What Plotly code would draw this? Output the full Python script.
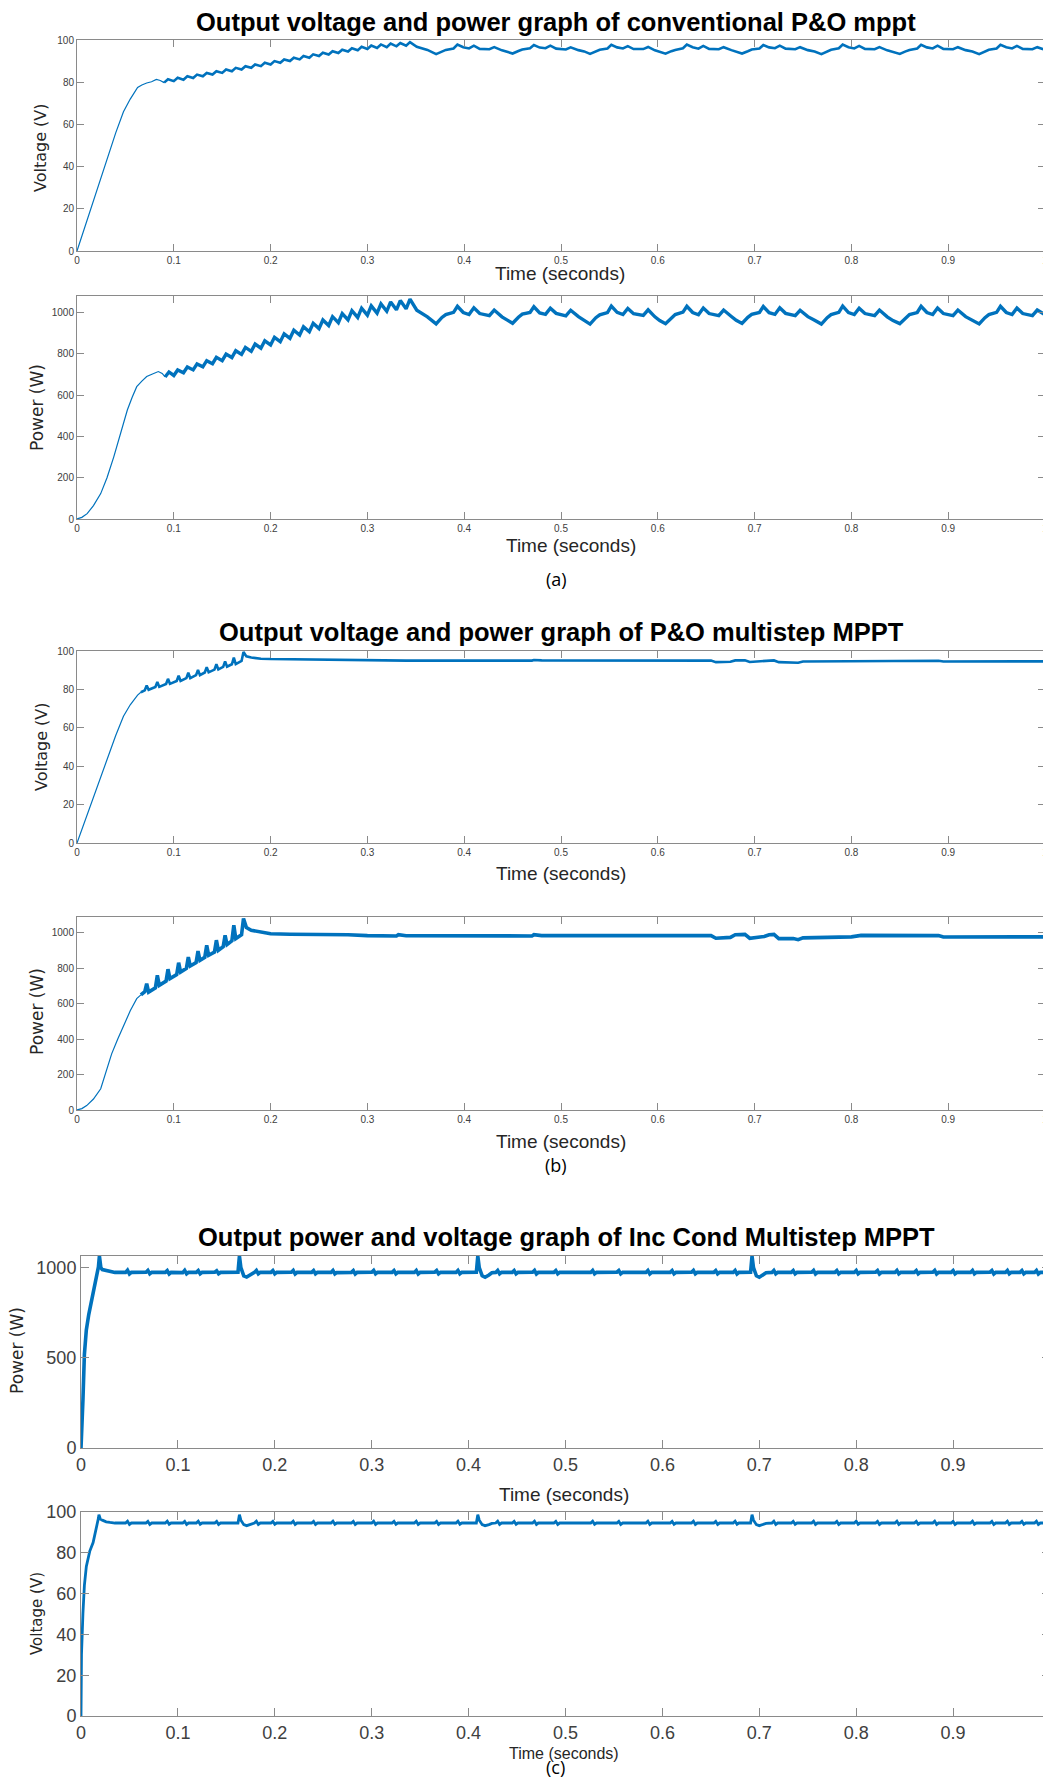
import plotly.graph_objects as go

# ---------------- data ----------------
TIME_TICKS = [0, 0.1, 0.2, 0.3, 0.4, 0.5, 0.6, 0.7, 0.8, 0.9, 1]
TIME_LABELS = ["0", "0.1", "0.2", "0.3", "0.4", "0.5", "0.6", "0.7", "0.8", "0.9", "1"]

TITLES = [
    "Output voltage and power graph of conventional P&O mppt",
    "Output voltage and power graph of P&O multistep MPPT",
    "Output power and voltage graph of Inc Cond Multistep MPPT",
]
CAPTIONS = ["(a)", "(b)", "(c)"]
X_TITLE = "Time (seconds)"
Y_TITLES = ["Voltage (V)", "Power (W)", "Voltage (V)", "Power (W)", "Power (W)", "Voltage (V)"]

# (a) conventional P&O : voltage start-up (t, V)
va_start = [(0, 0), (0.01, 14), (0.02, 28), (0.03, 42), (0.04, 56), (0.048, 66), (0.055, 72),
            (0.0626, 77.5), (0.067, 78.7), (0.072, 79.6), (0.077, 80.2), (0.082, 81.3),
            (0.086, 80.8), (0.09, 79.8)]
# (a) conventional P&O : voltage perturbation steps (t, V)
va_steps = [(0.090, 79.8), (0.094, 81.4), (0.100, 80.5), (0.104, 82.1), (0.110, 81.2), (0.114, 82.8),
            (0.120, 82.0), (0.124, 83.6), (0.130, 82.8), (0.134, 84.4), (0.140, 83.6), (0.144, 85.2),
            (0.150, 84.4), (0.154, 86.0), (0.160, 85.2), (0.164, 86.8), (0.170, 86.0), (0.174, 87.6),
            (0.180, 86.8), (0.184, 88.4), (0.190, 87.6), (0.194, 89.2), (0.200, 88.4), (0.204, 90.0),
            (0.210, 89.2), (0.214, 90.8), (0.220, 90.0), (0.224, 91.6), (0.230, 90.8), (0.234, 92.4),
            (0.240, 91.6), (0.244, 93.2), (0.250, 92.4), (0.254, 94.0), (0.260, 93.1), (0.264, 94.7),
            (0.270, 93.8), (0.274, 95.4), (0.280, 94.5), (0.284, 96.1), (0.290, 95.1), (0.294, 96.8),
            (0.300, 95.7), (0.304, 97.4), (0.310, 96.2), (0.314, 97.9), (0.320, 96.6), (0.324, 98.3),
            (0.330, 97.0), (0.334, 98.6), (0.340, 97.3), (0.344, 99.0), (0.351, 96.8), (0.362, 95.3),
            (0.371, 93.3), (0.377, 94.6), (0.381, 95.3), (0.389, 96.0), (0.393, 97.8), (0.399, 96.6),
            (0.405, 96.0), (0.410, 97.3), (0.416, 95.8), (0.426, 95.6), (0.431, 96.6), (0.439, 95.1),
            (0.445, 94.4), (0.450, 93.6), (0.456, 94.8), (0.460, 95.5), (0.468, 96.1), (0.472, 97.6),
            (0.478, 96.4), (0.484, 96.1), (0.489, 97.3), (0.495, 95.9), (0.505, 95.5), (0.510, 96.5),
            (0.518, 95.2), (0.524, 94.6), (0.530, 93.4), (0.536, 94.6), (0.540, 95.4), (0.548, 96.0),
            (0.552, 97.7), (0.558, 96.5), (0.564, 96.0), (0.569, 97.1), (0.575, 95.7), (0.585, 95.7),
            (0.590, 96.7), (0.597, 95.1), (0.602, 94.4), (0.608, 93.5), (0.614, 94.7), (0.618, 95.3),
            (0.626, 96.1), (0.630, 97.8), (0.636, 96.6), (0.642, 95.9), (0.647, 97.2), (0.653, 95.8),
            (0.663, 95.6), (0.668, 96.6), (0.676, 95.2), (0.681, 94.5), (0.687, 93.6), (0.693, 94.7),
            (0.697, 95.5), (0.705, 96.0), (0.709, 97.6), (0.715, 96.5), (0.721, 96.1), (0.726, 97.3),
            (0.732, 95.9), (0.742, 95.6), (0.747, 96.6), (0.755, 95.2), (0.762, 94.5), (0.769, 93.3),
            (0.775, 94.6), (0.779, 95.4), (0.787, 96.1), (0.791, 97.8), (0.797, 96.6), (0.803, 96.0),
            (0.808, 97.2), (0.814, 95.8), (0.824, 95.6), (0.829, 96.6), (0.837, 95.1), (0.843, 94.4),
            (0.850, 93.4), (0.856, 94.6), (0.860, 95.3), (0.868, 96.0), (0.872, 97.7), (0.878, 96.5),
            (0.884, 96.0), (0.889, 97.3), (0.895, 95.8), (0.905, 95.6), (0.910, 96.6), (0.918, 95.2),
            (0.925, 94.5), (0.932, 93.3), (0.938, 94.6), (0.942, 95.4), (0.950, 96.0), (0.954, 97.7),
            (0.960, 96.6), (0.966, 96.0), (0.971, 97.2), (0.977, 95.8), (0.987, 95.6), (0.992, 96.6),
            (1.0, 95.3)]

# (a) conventional P&O : power start-up (t, W)
pa_start = [(0, 0), (0.005, 8), (0.0105, 26), (0.017, 65), (0.0245, 123), (0.031, 200), (0.038, 301),
            (0.045, 410), (0.052, 528), (0.057, 590), (0.0617, 641), (0.067, 668), (0.072, 690),
            (0.078, 702), (0.084, 714), (0.088, 705), (0.091, 688)]
# (a) conventional P&O : power perturbation steps (t, W)
pa_steps = [(0.091, 688), (0.095, 712), (0.100, 695), (0.104, 722), (0.110, 708), (0.114, 736),
            (0.120, 722), (0.124, 751), (0.130, 737), (0.134, 767), (0.140, 752), (0.144, 783),
            (0.150, 767), (0.154, 799), (0.160, 782), (0.164, 815), (0.170, 797), (0.174, 831),
            (0.180, 812), (0.184, 847), (0.190, 827), (0.194, 863), (0.200, 843), (0.204, 880),
            (0.210, 859), (0.214, 897), (0.220, 875), (0.224, 914), (0.230, 891), (0.234, 931),
            (0.240, 907), (0.244, 948), (0.250, 922), (0.254, 964), (0.260, 937), (0.264, 980),
            (0.270, 951), (0.274, 995), (0.280, 964), (0.284, 1009), (0.290, 976), (0.294, 1021),
            (0.300, 987), (0.304, 1032), (0.310, 997), (0.314, 1042), (0.320, 1006), (0.324, 1051),
            (0.330, 1013), (0.334, 1058), (0.340, 1018), (0.344, 1065), (0.351, 1011), (0.362, 979),
            (0.371, 945), (0.377, 976), (0.381, 990), (0.389, 1001), (0.393, 1030), (0.399, 1000),
            (0.405, 990), (0.410, 1023), (0.416, 995), (0.426, 985), (0.431, 1012), (0.439, 979),
            (0.445, 962), (0.450, 948), (0.456, 977), (0.460, 992), (0.468, 1000), (0.472, 1028),
            (0.478, 998), (0.484, 991), (0.489, 1021), (0.495, 996), (0.505, 984), (0.510, 1011),
            (0.518, 980), (0.524, 963), (0.530, 944), (0.536, 975), (0.540, 989), (0.548, 1000),
            (0.552, 1031), (0.558, 1001), (0.564, 990), (0.569, 1020), (0.575, 994), (0.585, 986),
            (0.590, 1013), (0.597, 979), (0.602, 961), (0.608, 946), (0.614, 976), (0.618, 990),
            (0.626, 1002), (0.630, 1030), (0.636, 1000), (0.642, 989), (0.647, 1022), (0.653, 995),
            (0.663, 985), (0.668, 1012), (0.676, 981), (0.681, 962), (0.687, 947), (0.693, 977),
            (0.697, 991), (0.705, 1000), (0.709, 1029), (0.715, 999), (0.721, 991), (0.726, 1023),
            (0.732, 996), (0.742, 985), (0.747, 1011), (0.755, 980), (0.762, 963), (0.769, 944),
            (0.775, 975), (0.779, 990), (0.787, 1001), (0.791, 1031), (0.797, 1000), (0.803, 990),
            (0.808, 1021), (0.814, 995), (0.824, 985), (0.829, 1012), (0.837, 979), (0.843, 961),
            (0.850, 946), (0.856, 976), (0.860, 990), (0.868, 1000), (0.872, 1030), (0.878, 1000),
            (0.884, 990), (0.889, 1022), (0.895, 995), (0.905, 985), (0.910, 1012), (0.918, 980),
            (0.925, 962), (0.932, 945), (0.938, 975), (0.942, 990), (0.950, 1001), (0.954, 1030),
            (0.960, 1000), (0.966, 990), (0.971, 1022), (0.977, 995), (0.987, 985), (0.992, 1012),
            (1.0, 990)]

# (b) P&O multistep : voltage (t, V)
vb_start = [(0, 0), (0.01, 14), (0.02, 28), (0.03, 42), (0.04, 56), (0.048, 66), (0.055, 72),
            (0.0626, 77.0), (0.066, 78.5)]
vb_steps = [(0.066, 78.5), (0.070, 79.5), (0.072, 82.0), (0.074, 79.8), (0.081, 81.3), (0.083, 83.8),
            (0.085, 81.3), (0.092, 82.8), (0.094, 85.5), (0.096, 82.9), (0.103, 84.4), (0.105, 87.1),
            (0.107, 84.4), (0.113, 85.9), (0.115, 88.7), (0.117, 85.9), (0.123, 87.4), (0.125, 90.2),
            (0.127, 87.4), (0.132, 88.8), (0.134, 91.6), (0.136, 88.9), (0.142, 90.3), (0.144, 93.1),
            (0.146, 90.4), (0.151, 91.7), (0.153, 94.6), (0.155, 91.8), (0.160, 93.1), (0.162, 96.5),
            (0.164, 93.2), (0.170, 94.8), (0.172, 99.5), (0.175, 97.2), (0.180, 96.6), (0.19, 96.0),
            (0.20, 95.8), (0.22, 95.7), (0.25, 95.6), (0.27, 95.7), (0.28, 95.5), (0.30, 95.2),
            (0.33, 95.0), (0.335, 95.3), (0.34, 95.0), (0.47, 95.0), (0.472, 95.3), (0.48, 95.1),
            (0.60, 95.0), (0.655, 95.0), (0.66, 94.2), (0.675, 94.4), (0.68, 95.1), (0.69, 95.2),
            (0.695, 94.3), (0.71, 94.6), (0.715, 95.0), (0.72, 95.1), (0.725, 94.2), (0.74, 94.2),
            (0.745, 93.9), (0.75, 94.5), (0.80, 94.6), (0.81, 95.0), (0.89, 94.9), (0.895, 94.5),
            (1.0, 94.6)]

# (b) P&O multistep : power (t, W)
pb_start = [(0, 0), (0.005, 8), (0.01, 25), (0.017, 62), (0.0245, 120), (0.03, 210), (0.0358, 317),
            (0.042, 400), (0.048, 478), (0.055, 560), (0.0617, 629), (0.066, 650)]
pb_steps = [(0.066, 650), (0.070, 668), (0.072, 714), (0.074, 666), (0.081, 690), (0.083, 761),
            (0.085, 704), (0.092, 728), (0.094, 795), (0.096, 742), (0.103, 765), (0.105, 832),
            (0.107, 779), (0.113, 800), (0.115, 864), (0.117, 813), (0.123, 832), (0.125, 898),
            (0.127, 845), (0.132, 862), (0.134, 930), (0.136, 874), (0.142, 892), (0.144, 959),
            (0.146, 902), (0.151, 922), (0.153, 987), (0.155, 934), (0.160, 955), (0.162, 1044),
            (0.164, 968), (0.170, 990), (0.172, 1081), (0.175, 1030), (0.180, 1015), (0.19, 1003),
            (0.20, 995), (0.22, 993), (0.25, 992), (0.27, 994), (0.28, 990), (0.30, 985),
            (0.33, 983), (0.332, 990), (0.34, 984), (0.47, 983), (0.472, 990), (0.48, 985),
            (0.60, 985), (0.655, 985), (0.66, 970), (0.675, 975), (0.68, 990), (0.69, 992),
            (0.695, 970), (0.71, 980), (0.715, 990), (0.72, 992), (0.725, 968), (0.74, 968),
            (0.745, 962), (0.75, 972), (0.80, 978), (0.81, 986), (0.89, 985), (0.895, 977),
            (1.0, 978)]

# (c) Inc Cond multistep : power (t, W)
pc_trace = [(0, 0), (0.0005, 120), (0.002, 267), (0.0035, 520), (0.0055, 655), (0.008, 740),
            (0.0125, 858), (0.016, 940), (0.018, 1005), (0.019, 1065), (0.0205, 1000), (0.022, 990),
            (0.026, 984), (0.030, 977), (0.035, 974),
            (0.046, 974), (0.048, 986), (0.050, 965), (0.052, 974),
            (0.067, 975), (0.069, 985), (0.071, 966), (0.073, 974),
            (0.087, 974), (0.089, 984), (0.091, 965), (0.093, 974),
            (0.105, 973), (0.107, 985), (0.109, 966), (0.111, 974),
            (0.119, 974), (0.121, 984), (0.123, 966), (0.125, 974),
            (0.138, 975), (0.140, 983), (0.142, 967), (0.144, 974),
            (0.162, 975), (0.1635, 1065), (0.165, 1000), (0.168, 955), (0.171, 948), (0.175, 960),
            (0.178, 972),
            (0.179, 974), (0.181, 985), (0.183, 966), (0.185, 974),
            (0.196, 974), (0.198, 984), (0.200, 966), (0.202, 974),
            (0.217, 975), (0.219, 985), (0.221, 965), (0.223, 974),
            (0.238, 974), (0.240, 984), (0.242, 966), (0.244, 974),
            (0.258, 974), (0.260, 985), (0.262, 966), (0.264, 973),
            (0.279, 974), (0.281, 984), (0.283, 965), (0.285, 974),
            (0.300, 975), (0.302, 985), (0.304, 966), (0.306, 974),
            (0.321, 974), (0.323, 984), (0.325, 966), (0.327, 974),
            (0.344, 974), (0.346, 985), (0.348, 965), (0.350, 974),
            (0.365, 975), (0.367, 984), (0.369, 966), (0.371, 974),
            (0.387, 974), (0.389, 985), (0.391, 966), (0.393, 974),
            (0.408, 975), (0.4095, 1065), (0.411, 1000), (0.414, 955), (0.417, 947), (0.421, 960),
            (0.424, 972),
            (0.428, 974), (0.430, 985), (0.432, 966), (0.434, 974),
            (0.445, 974), (0.447, 984), (0.449, 966), (0.451, 974),
            (0.466, 975), (0.468, 985), (0.470, 965), (0.472, 974),
            (0.488, 974), (0.490, 984), (0.492, 966), (0.494, 974),
            (0.526, 974), (0.528, 985), (0.530, 966), (0.532, 974),
            (0.553, 975), (0.555, 984), (0.557, 966), (0.559, 974),
            (0.583, 974), (0.585, 985), (0.587, 965), (0.589, 974),
            (0.608, 974), (0.610, 984), (0.612, 966), (0.614, 974),
            (0.630, 975), (0.632, 985), (0.634, 966), (0.636, 974),
            (0.653, 974), (0.655, 984), (0.657, 966), (0.659, 974),
            (0.673, 974), (0.675, 985), (0.677, 965), (0.679, 974),
            (0.691, 975), (0.6925, 1065), (0.694, 1000), (0.697, 955), (0.700, 947), (0.704, 960),
            (0.707, 972),
            (0.713, 974), (0.715, 985), (0.717, 966), (0.719, 974),
            (0.733, 974), (0.735, 984), (0.737, 966), (0.739, 974),
            (0.754, 975), (0.756, 985), (0.758, 965), (0.760, 974),
            (0.778, 974), (0.780, 984), (0.782, 966), (0.784, 974),
            (0.798, 974), (0.800, 985), (0.802, 966), (0.804, 974),
            (0.820, 975), (0.822, 984), (0.824, 965), (0.826, 974),
            (0.840, 974), (0.842, 985), (0.844, 966), (0.846, 974),
            (0.860, 974), (0.862, 984), (0.864, 966), (0.866, 974),
            (0.879, 975), (0.881, 985), (0.883, 965), (0.885, 974),
            (0.898, 974), (0.900, 984), (0.902, 966), (0.904, 974),
            (0.918, 974), (0.920, 985), (0.922, 966), (0.924, 974),
            (0.938, 975), (0.940, 984), (0.942, 965), (0.944, 974),
            (0.954, 974), (0.956, 985), (0.958, 966), (0.960, 974),
            (0.969, 974), (0.971, 984), (0.973, 966), (0.975, 974),
            (0.984, 974), (0.986, 985), (0.988, 965), (0.990, 974),
            (1.0, 974)]

# (c) Inc Cond multistep : voltage (t, V)
vc_trace = [(0, 0), (0.0005, 30), (0.002, 50.4), (0.0035, 64), (0.0055, 73.3), (0.009, 80.7),
            (0.0125, 85), (0.0157, 91.3), (0.018, 97), (0.0185, 98.7), (0.020, 96.5), (0.022, 96.0),
            (0.026, 95.2), (0.030, 94.9), (0.035, 94.6),
            (0.046, 94.6), (0.048, 95.5), (0.050, 93.9), (0.052, 94.6),
            (0.067, 94.6), (0.069, 95.4), (0.071, 93.9), (0.073, 94.6),
            (0.087, 94.6), (0.089, 95.5), (0.091, 94.0), (0.093, 94.6),
            (0.105, 94.6), (0.107, 95.4), (0.109, 93.9), (0.111, 94.6),
            (0.119, 94.6), (0.121, 95.5), (0.123, 94.0), (0.125, 94.6),
            (0.138, 94.6), (0.140, 95.4), (0.142, 93.9), (0.144, 94.6),
            (0.162, 94.6), (0.1635, 98.7), (0.165, 96.0), (0.168, 93.8), (0.171, 93.3), (0.175, 93.8),
            (0.178, 94.4),
            (0.179, 94.6), (0.181, 95.5), (0.183, 93.9), (0.185, 94.6),
            (0.196, 94.6), (0.198, 95.4), (0.200, 94.0), (0.202, 94.6),
            (0.217, 94.6), (0.219, 95.5), (0.221, 93.9), (0.223, 94.6),
            (0.238, 94.6), (0.240, 95.4), (0.242, 93.9), (0.244, 94.6),
            (0.258, 94.6), (0.260, 95.5), (0.262, 94.0), (0.264, 94.6),
            (0.279, 94.6), (0.281, 95.4), (0.283, 93.9), (0.285, 94.6),
            (0.300, 94.6), (0.302, 95.5), (0.304, 93.9), (0.306, 94.6),
            (0.321, 94.6), (0.323, 95.4), (0.325, 94.0), (0.327, 94.6),
            (0.344, 94.6), (0.346, 95.5), (0.348, 93.9), (0.350, 94.6),
            (0.365, 94.6), (0.367, 95.4), (0.369, 93.9), (0.371, 94.6),
            (0.387, 94.6), (0.389, 95.5), (0.391, 94.0), (0.393, 94.6),
            (0.408, 94.6), (0.4095, 98.7), (0.411, 96.0), (0.414, 93.8), (0.417, 93.3), (0.421, 93.8),
            (0.424, 94.4),
            (0.428, 94.6), (0.430, 95.5), (0.432, 93.9), (0.434, 94.6),
            (0.445, 94.6), (0.447, 95.4), (0.449, 94.0), (0.451, 94.6),
            (0.466, 94.6), (0.468, 95.5), (0.470, 93.9), (0.472, 94.6),
            (0.488, 94.6), (0.490, 95.4), (0.492, 93.9), (0.494, 94.6),
            (0.526, 94.6), (0.528, 95.5), (0.530, 94.0), (0.532, 94.6),
            (0.553, 94.6), (0.555, 95.4), (0.557, 93.9), (0.559, 94.6),
            (0.583, 94.6), (0.585, 95.5), (0.587, 93.9), (0.589, 94.6),
            (0.608, 94.6), (0.610, 95.4), (0.612, 94.0), (0.614, 94.6),
            (0.630, 94.6), (0.632, 95.5), (0.634, 93.9), (0.636, 94.6),
            (0.653, 94.6), (0.655, 95.4), (0.657, 93.9), (0.659, 94.6),
            (0.673, 94.6), (0.675, 95.5), (0.677, 94.0), (0.679, 94.6),
            (0.691, 94.6), (0.6925, 98.7), (0.694, 96.0), (0.697, 93.8), (0.700, 93.3), (0.704, 93.8),
            (0.707, 94.4),
            (0.713, 94.6), (0.715, 95.5), (0.717, 93.9), (0.719, 94.6),
            (0.733, 94.6), (0.735, 95.4), (0.737, 94.0), (0.739, 94.6),
            (0.754, 94.6), (0.756, 95.5), (0.758, 93.9), (0.760, 94.6),
            (0.778, 94.6), (0.780, 95.4), (0.782, 93.9), (0.784, 94.6),
            (0.798, 94.6), (0.800, 95.5), (0.802, 94.0), (0.804, 94.6),
            (0.820, 94.6), (0.822, 95.4), (0.824, 93.9), (0.826, 94.6),
            (0.840, 94.6), (0.842, 95.5), (0.844, 93.9), (0.846, 94.6),
            (0.860, 94.6), (0.862, 95.4), (0.864, 94.0), (0.866, 94.6),
            (0.879, 94.6), (0.881, 95.5), (0.883, 93.9), (0.885, 94.6),
            (0.898, 94.6), (0.900, 95.4), (0.902, 93.9), (0.904, 94.6),
            (0.918, 94.6), (0.920, 95.5), (0.922, 94.0), (0.924, 94.6),
            (0.938, 94.6), (0.940, 95.4), (0.942, 93.9), (0.944, 94.6),
            (0.954, 94.6), (0.956, 95.5), (0.958, 93.9), (0.960, 94.6),
            (0.969, 94.6), (0.971, 95.4), (0.973, 94.0), (0.975, 94.6),
            (0.984, 94.6), (0.986, 95.5), (0.988, 93.9), (0.990, 94.6),
            (1.0, 94.6)]

Y_RANGES = [[0, 100], [0, 1080], [0, 100], [0, 1090], [0, 1065], [0, 100]]
Y_DTICKS = [20, 200, 20, 200, 500, 20]

# ---------------- layout helpers ----------------
# the page body adds an 8px margin, so the figure is drawn 8px smaller and all
# page-pixel positions are shifted by that offset
OFF = 8
W, H = 1051 - OFF, 1780 - OFF
LINE = "#0072BD"


def px(x):
    return (x - OFF) / W


def py(y):
    return 1 - (y - OFF) / H


# plot boxes in page pixels: (left, right, top, bottom)
BOXES = [(77, 1045, 40, 251), (77, 1045, 296, 519), (77, 1045, 651, 843),
         (77, 1045, 917, 1110), (81, 1050, 1256, 1448), (81, 1050, 1512, 1716)]
TICK_SIZES = [10, 10, 10, 10, 18, 18]

fig = go.Figure()

series = [
    [(va_start, 1.2), (va_steps, 2.6)],
    [(pa_start, 1.2), (pa_steps, 3.4)],
    [(vb_start, 1.2), (vb_steps, 2.6)],
    [(pb_start, 1.2), (pb_steps, 3.6)],
    [(pc_trace, 3.6)],
    [(vc_trace, 2.8)],
]

for i, parts in enumerate(series):
    ax = "" if i == 0 else str(i + 1)
    for pts, w in parts:
        fig.add_trace(go.Scatter(
            x=[p[0] for p in pts], y=[p[1] for p in pts], mode="lines",
            line=dict(color=LINE, width=w), xaxis="x" + ax, yaxis="y" + ax,
            showlegend=False, hoverinfo="skip"))

layout = dict(width=W, height=H, autosize=False, margin=dict(l=0, r=0, t=0, b=0, pad=0),
              paper_bgcolor="white", plot_bgcolor="white", showlegend=False,
              template="none")

for i, (l, r, t, b) in enumerate(BOXES):
    ax = "" if i == 0 else str(i + 1)
    fs = TICK_SIZES[i]
    tl = 8 if i >= 4 else 7
    common = dict(showline=True, linecolor="#8a8a8a", linewidth=1, mirror="ticks",
                  ticks="inside", ticklen=tl, tickcolor="#8a8a8a", showgrid=False,
                  zeroline=False, automargin=False, ticklabeloverflow="allow",
                  tickfont=dict(family="Liberation Sans, Arial", size=fs, color="#404040"))
    layout["xaxis" + ax] = dict(domain=[px(l), min(px(r), 1)], anchor="y" + ax, range=[0, 1],
                                tickmode="array", tickvals=TIME_TICKS, ticktext=TIME_LABELS,
                                **common)
    layout["yaxis" + ax] = dict(domain=[py(b), py(t)], anchor="x" + ax, range=Y_RANGES[i],
                                dtick=Y_DTICKS[i], tick0=0, **common)

fig.update_layout(**layout)

ann = []
# panel titles
for txt, (x, y) in zip(TITLES, [(556, 22), (561, 632), (566, 1237)]):
    ann.append(dict(text="<b>" + txt + "</b>", x=px(x), y=py(y), xref="paper", yref="paper",
                    showarrow=False, xanchor="center", yanchor="middle",
                    font=dict(family="Liberation Sans, Arial", size=25.5, color="black")))
# x-axis titles
for (x, y, s) in [(560, 273, 19), (571, 545, 19), (561, 874, 19), (561, 1141, 19),
                  (564, 1494, 19), (564, 1753, 16)]:
    ann.append(dict(text=X_TITLE, x=px(x), y=py(y), xref="paper", yref="paper",
                    showarrow=False, xanchor="center", yanchor="middle",
                    font=dict(family="Liberation Sans, Arial", size=s, color="#262626")))
# y-axis titles
for txt, (x, y, s) in zip(Y_TITLES, [(40, 148, 16), (37, 408, 17), (42, 747, 16),
                                     (37, 1012, 17), (17, 1351, 17), (37, 1614, 15)]):
    ann.append(dict(text=txt, x=px(x), y=py(y), xref="paper", yref="paper", textangle=-90,
                    showarrow=False, xanchor="center", yanchor="middle",
                    font=dict(family="DejaVu Sans", size=s, color="#262626")))
# captions
for txt, (x, y) in zip(CAPTIONS, [(556, 579), (556, 1165), (555, 1767)]):
    ann.append(dict(text=txt, x=px(x), y=py(y), xref="paper", yref="paper",
                    showarrow=False, xanchor="center", yanchor="middle",
                    font=dict(family="Open Sans", size=18, color="black")))

fig.update_layout(annotations=ann)
fig.write_html("out.html")
